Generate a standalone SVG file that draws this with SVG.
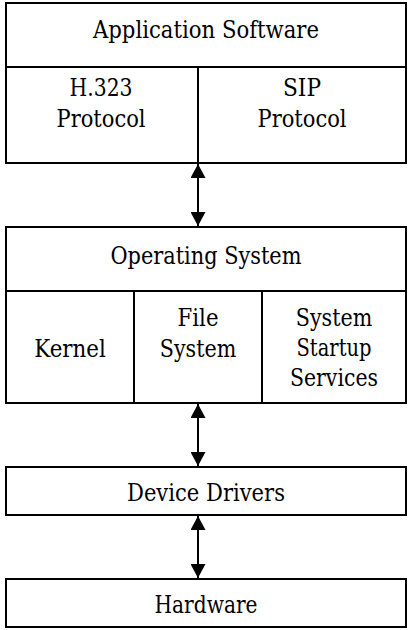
<svg xmlns="http://www.w3.org/2000/svg" width="408" height="630" viewBox="0 0 408 630">
  <defs>
    <style>
      .box { fill: #ffffff; stroke: #000000; stroke-width: 2; }
      .div { fill: none; stroke: #000000; stroke-width: 2; }
      .lbl { font-family: 'DejaVu Serif', serif; font-size: 24px; fill: #000000; text-anchor: middle; }
      .conn { fill: none; stroke: #000000; stroke-width: 2; marker-start: url(#head); marker-end: url(#head); }
    </style>
    <marker id="head" viewBox="0 0 14 15" refX="14" refY="7.5" markerWidth="14" markerHeight="15" markerUnits="userSpaceOnUse" orient="auto-start-reverse">
      <path d="M0,0 L14,7.5 L0,15 Z" fill="#000000"/>
    </marker>
  </defs>

  <rect width="408" height="630" fill="#ffffff"/>

  <!-- Application layer -->
  <g id="application">
    <rect class="box" x="6" y="3" width="400" height="160"/>
    <line class="div" x1="6" y1="67" x2="406" y2="67"/>
    <line class="div" x1="198" y1="67" x2="198" y2="163"/>
    <text class="lbl" x="206" y="37.5" textLength="226" lengthAdjust="spacingAndGlyphs">Application Software</text>
    <text class="lbl" x="101" y="96" textLength="63" lengthAdjust="spacingAndGlyphs">H.323</text>
    <text class="lbl" x="101" y="127" textLength="89" lengthAdjust="spacingAndGlyphs">Protocol</text>
    <text class="lbl" x="302" y="96" textLength="38" lengthAdjust="spacingAndGlyphs">SIP</text>
    <text class="lbl" x="302" y="127" textLength="89" lengthAdjust="spacingAndGlyphs">Protocol</text>
  </g>

  <!-- Operating system layer -->
  <g id="operating-system">
    <rect class="box" x="6" y="227" width="400" height="176"/>
    <line class="div" x1="6" y1="291" x2="406" y2="291"/>
    <line class="div" x1="134" y1="291" x2="134" y2="403"/>
    <line class="div" x1="262" y1="291" x2="262" y2="403"/>
    <text class="lbl" x="206" y="263.5" textLength="191" lengthAdjust="spacingAndGlyphs">Operating System</text>
    <text class="lbl" x="70" y="357" textLength="71.5" lengthAdjust="spacingAndGlyphs">Kernel</text>
    <text class="lbl" x="198" y="325.5" textLength="41" lengthAdjust="spacingAndGlyphs">File</text>
    <text class="lbl" x="198" y="357" textLength="76.5" lengthAdjust="spacingAndGlyphs">System</text>
    <text class="lbl" x="334" y="325.5" textLength="76.5" lengthAdjust="spacingAndGlyphs">System</text>
    <text class="lbl" x="334" y="356" textLength="75" lengthAdjust="spacingAndGlyphs">Startup</text>
    <text class="lbl" x="334" y="386" textLength="88" lengthAdjust="spacingAndGlyphs">Services</text>
  </g>

  <!-- Device drivers layer -->
  <g id="device-drivers">
    <rect class="box" x="6" y="467" width="400" height="48"/>
    <text class="lbl" x="206" y="500.5" textLength="158" lengthAdjust="spacingAndGlyphs">Device Drivers</text>
  </g>

  <!-- Hardware layer -->
  <g id="hardware">
    <rect class="box" x="6" y="579" width="400" height="48"/>
    <text class="lbl" x="206" y="612.5" textLength="103" lengthAdjust="spacingAndGlyphs">Hardware</text>
  </g>

  <!-- Two-way links between layers -->
  <g id="connectors">
    <line class="conn" x1="198" y1="164" x2="198" y2="226"/>
    <line class="conn" x1="198" y1="404" x2="198" y2="466"/>
    <line class="conn" x1="198" y1="516" x2="198" y2="578"/>
  </g>
</svg>
